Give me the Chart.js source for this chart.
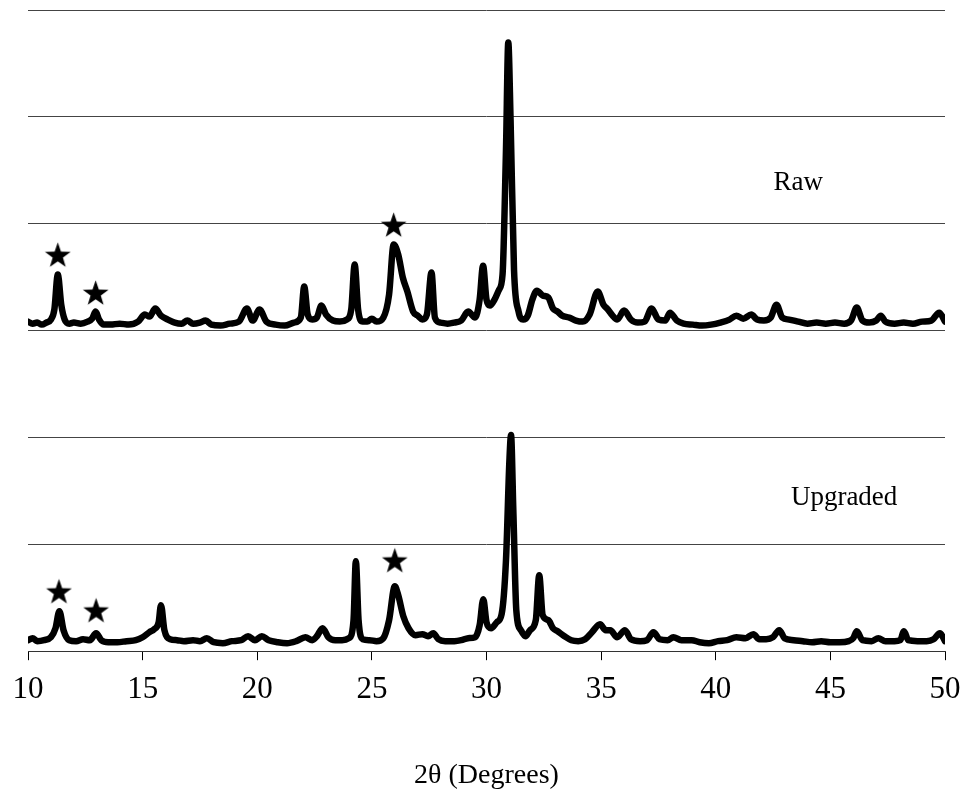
<!DOCTYPE html>
<html>
<head>
<meta charset="utf-8">
<script src="https://cdn.jsdelivr.net/npm/chart.js@4"></script>
<style>
  html, body { margin: 0; padding: 0; background: #fff; }
  #wrap { width: 966px; height: 794px; }
</style>
</head>
<body>
<div id="wrap"><canvas id="xrd"></canvas></div>
<script>
// ── Data ─────────────────────────────────────────────────────────

// Raw sample pattern: 2θ (deg) and intensity (a.u., gridline = 1000)
const rawTheta = [
  10.0, 10.2, 10.4, 10.6, 10.8, 11.0, 11.15, 11.3, 11.45, 11.6, 11.8, 12.0, 12.3, 12.6, 12.8, 12.95,
  13.1, 13.3, 13.6, 14.0, 14.4, 14.8, 15.1, 15.3, 15.55, 15.8, 16.1, 16.4, 16.7, 16.95, 17.2, 17.5,
  17.75, 18.0, 18.4, 18.8, 19.2, 19.55, 19.8, 20.1, 20.4, 20.8, 21.2, 21.6, 21.9, 22.05, 22.2, 22.4,
  22.6, 22.8, 23.0, 23.3, 23.6, 23.9, 24.1, 24.25, 24.4, 24.6, 24.8, 25.0, 25.2, 25.5, 25.75, 25.95,
  26.15, 26.35, 26.55, 26.8, 27.0, 27.2, 27.4, 27.6, 27.75, 28.0, 28.3, 28.6, 28.9, 29.2, 29.5, 29.7,
  29.85, 30.0, 30.15, 30.35, 30.55, 30.7, 30.85, 30.95, 31.05, 31.2, 31.4, 31.6, 31.8, 32.0, 32.2, 32.45,
  32.7, 32.9, 33.1, 33.3, 33.6, 33.9, 34.2, 34.5, 34.85, 35.1, 35.3, 35.5, 35.7, 36.0, 36.3, 36.6,
  36.9, 37.2, 37.5, 37.8, 38.0, 38.3, 38.6, 39.0, 39.4, 39.8, 40.2, 40.6, 40.9, 41.2, 41.55, 41.8,
  42.1, 42.4, 42.65, 42.9, 43.2, 43.6, 44.0, 44.4, 44.8, 45.2, 45.6, 45.9, 46.15, 46.4, 46.7, 47.0,
  47.2, 47.4, 47.8, 48.2, 48.6, 49.0, 49.4, 49.75, 50.0
];
const rawCounts = [
  84, 65, 75, 56, 75, 103, 197, 524, 243, 103, 65, 75, 65, 84, 112, 178,
  103, 56, 56, 65, 56, 84, 150, 131, 206, 140, 103, 75, 65, 94, 65, 75,
  94, 56, 47, 65, 84, 206, 94, 197, 84, 56, 47, 75, 122, 412, 150, 103,
  122, 234, 150, 94, 84, 103, 197, 618, 197, 84, 84, 112, 84, 122, 337, 805,
  711, 496, 365, 178, 140, 103, 150, 543, 122, 75, 65, 75, 94, 178, 122, 290,
  608, 290, 234, 290, 384, 524, 1694, 2696, 1975, 571, 178, 103, 140, 290, 374, 328,
  309, 206, 178, 140, 122, 94, 84, 150, 365, 243, 197, 140, 103, 187, 103, 75,
  84, 206, 103, 94, 168, 94, 65, 56, 47, 56, 75, 103, 140, 112, 150, 103,
  94, 122, 243, 122, 103, 84, 65, 75, 65, 75, 65, 94, 215, 94, 75, 94,
  140, 84, 65, 75, 65, 84, 94, 168, 84
];

// Upgraded sample pattern
const upgTheta = [
  10.0, 10.2, 10.4, 10.7, 11.0, 11.2, 11.37, 11.55, 11.8, 12.1, 12.4, 12.7, 12.97, 13.2, 13.5, 13.9,
  14.3, 14.7, 15.0, 15.3, 15.5, 15.7, 15.8, 15.95, 16.2, 16.5, 16.8, 17.2, 17.5, 17.8, 18.1, 18.5,
  18.9, 19.3, 19.6, 19.9, 20.2, 20.5, 20.9, 21.3, 21.7, 22.1, 22.4, 22.6, 22.85, 23.1, 23.4, 23.7,
  24.0, 24.2, 24.3, 24.42, 24.6, 24.9, 25.2, 25.5, 25.75, 26.0, 26.15, 26.37, 26.6, 26.9, 27.2, 27.45,
  27.68, 27.9, 28.2, 28.6, 28.9, 29.2, 29.5, 29.7, 29.86, 30.0, 30.2, 30.45, 30.66, 30.85, 31.0, 31.07,
  31.17, 31.3, 31.5, 31.7, 31.9, 32.15, 32.3, 32.45, 32.7, 32.9, 33.1, 33.4, 33.7, 34.0, 34.3, 34.6,
  34.95, 35.2, 35.4, 35.7, 36.04, 36.3, 36.7, 37.0, 37.28, 37.55, 37.9, 38.15, 38.5, 38.95, 39.3, 39.7,
  40.1, 40.5, 40.9, 41.3, 41.64, 41.9, 42.2, 42.5, 42.77, 43.0, 43.4, 43.8, 44.2, 44.6, 45.0, 45.4,
  45.8, 46.0, 46.15, 46.4, 46.8, 47.09, 47.4, 47.8, 48.05, 48.21, 48.4, 48.8, 49.2, 49.5, 49.78, 50.0
];
const upgCounts = [
  103, 122, 94, 103, 131, 215, 374, 197, 103, 94, 112, 103, 168, 103, 84, 84,
  94, 103, 131, 178, 206, 271, 431, 197, 112, 103, 94, 103, 94, 122, 84, 75,
  94, 103, 140, 103, 140, 103, 84, 75, 94, 131, 103, 140, 215, 131, 103, 103,
  122, 290, 842, 290, 112, 103, 94, 122, 290, 608, 524, 328, 215, 150, 159, 140,
  168, 112, 94, 94, 103, 122, 131, 243, 487, 271, 215, 271, 346, 852, 1788, 2022,
  1320, 384, 197, 140, 197, 290, 711, 337, 290, 215, 187, 140, 103, 94, 112, 178,
  253, 197, 197, 131, 197, 112, 94, 103, 178, 112, 103, 131, 103, 103, 84, 75,
  94, 103, 131, 122, 159, 112, 112, 131, 197, 122, 103, 94, 84, 94, 84, 84,
  94, 122, 187, 103, 94, 122, 94, 94, 103, 187, 103, 94, 94, 112, 168, 94
];

// Star markers (peaks of the marked phase)
const rawStarTheta = [11.3, 12.95, 25.95];
const rawStarCounts = [711, 356, 992];
const upgStarTheta = [11.35, 12.97, 26.0];
const upgStarCounts = [562, 384, 852];

const RAW_OFFSET = 3000;
const xTicks = [10, 15, 20, 25, 30, 35, 40, 45, 50];

// ── Helpers ──────────────────────────────────────────────────────

const toPoints = (xs, ys, off = 0) => xs.map((x, i) => ({ x, y: ys[i] + off }));

function makeStar(size) {
  const c = document.createElement('canvas');
  c.width = size; c.height = size;
  const g = c.getContext('2d');
  const cx = size / 2, cy = size / 2 + size * 0.05;
  const R = size / 2, r = R * 0.4;
  g.beginPath();
  for (let i = 0; i < 10; i++) {
    const rad = i % 2 === 0 ? R : r;
    const a = -Math.PI / 2 + i * Math.PI / 5;
    g.lineTo(cx + rad * Math.cos(a), cy + rad * Math.sin(a));
  }
  g.closePath();
  g.fillStyle = '#000';
  g.fill();
  return c;
}
const star = makeStar(27);

const SERIF = '"Liberation Serif", "Times New Roman", serif';

// Sample labels: x in degrees, y in intensity units (baseline of text)
const sampleLabels = [
  { text: 'Raw', x: 43.6, y: 4318 },
  { text: 'Upgraded', x: 45.6, y: 1367 },
];

const labelPlugin = {
  id: 'sampleLabels',
  afterDatasetsDraw(chart) {
    const ctx = chart.ctx;
    const xs = chart.scales.x, ys = chart.scales.y;
    ctx.save();
    ctx.fillStyle = '#000';
    ctx.font = '27px ' + SERIF;
    ctx.textAlign = 'center';
    ctx.textBaseline = 'alphabetic';
    for (const l of sampleLabels) {
      ctx.fillText(l.text, xs.getPixelForValue(l.x), ys.getPixelForValue(l.y));
    }
    ctx.restore();
  },
};

// ── Chart ────────────────────────────────────────────────────────

const lineStyle = {
  borderColor: '#000',
  borderWidth: 6.5,
  pointRadius: 0,
  showLine: true,
  fill: false,
  cubicInterpolationMode: 'monotone',
  borderJoinStyle: 'round',
  borderCapStyle: 'round',
};

const starStyle = {
  showLine: false,
  pointStyle: star,
  pointRadius: 13,
  backgroundColor: '#000',
  borderColor: '#000',
};

new Chart(document.getElementById('xrd'), {
  type: 'scatter',
  plugins: [labelPlugin],
  data: {
    datasets: [
      { label: 'Raw', data: toPoints(rawTheta, rawCounts, RAW_OFFSET), ...lineStyle },
      { label: 'Upgraded', data: toPoints(upgTheta, upgCounts), ...lineStyle },
      { label: 'Raw phase', data: toPoints(rawStarTheta, rawStarCounts, RAW_OFFSET), ...starStyle },
      { label: 'Upgraded phase', data: toPoints(upgStarTheta, upgStarCounts), ...starStyle },
    ],
  },
  options: {
    responsive: true,
    maintainAspectRatio: false,
    animation: false,
    layout: { autoPadding: false, padding: { left: 28, right: 21, top: 10, bottom: 2 } },
    plugins: {
      legend: { display: false },
      tooltip: { enabled: false },
    },
    scales: {
      x: {
        type: 'linear',
        min: 10,
        max: 50,
        afterBuildTicks: (s) => { s.ticks = xTicks.map(v => ({ value: v })); },
        afterFit: (s) => { s.paddingLeft = 0; s.paddingRight = 0; },
        border: { display: true, color: '#333', width: 1 },
        grid: { drawOnChartArea: false, drawTicks: true, tickLength: 9, color: '#000' },
        ticks: {
          color: '#000',
          padding: 11,
          maxRotation: 0,
          font: { family: SERIF, size: 31 },
        },
        title: {
          display: true,
          text: '2θ (Degrees)',
          color: '#000',
          padding: { top: 39, bottom: 0 },
          font: { family: SERIF, size: 28 },
        },
      },
      y: {
        type: 'linear',
        min: 0,
        max: 6000,
        border: { display: false },
        grid: { color: '#444', lineWidth: 1, drawTicks: false },
        ticks: { display: false, stepSize: 1000 },
      },
    },
  },
});
</script>
</body>
</html>
